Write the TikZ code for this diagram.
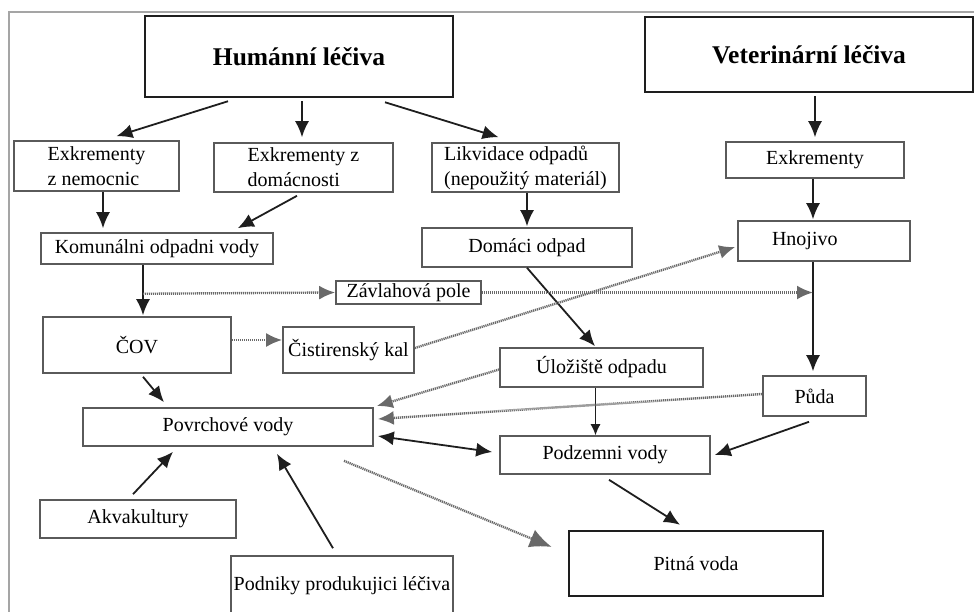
\documentclass[tikz,border=0pt]{standalone}
\usepackage{fontspec}
\setmainfont{Liberation Serif}
\usepackage{tikz}
\usetikzlibrary{arrows.meta,positioning}
\usepackage{xcolor}
\definecolor{boxgray}{RGB}{90,90,90}
\definecolor{linegray}{RGB}{30,30,30}
\definecolor{dotgray}{RGB}{105,105,105}
\definecolor{framegray}{RGB}{165,165,165}
\tikzstyle{box} = [draw=boxgray, line width=1.6pt, rectangle, inner sep=0pt, font=\fontsize{20}{25}\selectfont]
\tikzstyle{bigbox} = [box, draw=linegray, line width=2.5pt, font=\fontsize{25.5}{28}\selectfont\bfseries]
\tikzstyle{arrow} = [line width=1.8pt, color=linegray, -{Latex[length=16pt,width=14pt]}]
\tikzstyle{dotarrow} = [line width=2.4pt, color=dotgray, dash pattern=on 1.2pt off 0.8pt, -{Latex[length=16pt,width=14pt]}]

\begin{document}
\begin{tikzpicture}[x=1pt, y=-1pt]
\useasboundingbox (0,0) rectangle (974,611);
\clip (0,0) rectangle (974,611);
% Frame
\draw[framegray, line width=1.2pt] (9,620) -- (9,12) -- (990,12);

% Human side
\node[bigbox, minimum width=308pt, minimum height=81pt] (hum) at (299,56.5) {Humánní léčiva};
\node[box, minimum width=165pt, minimum height=50pt, align=left] (nem) at (96.5,166) {Exkrementy\\z nemocnic};
\node[box, minimum width=179pt, minimum height=49pt, align=left] (dom) at (303.5,167.5) {Exkrementy z\\domácnosti};
\node[box, minimum width=187pt, minimum height=49pt, align=left] (likv) at (525.5,167.5) {Likvidace odpadů\\(nepoužitý materiál)};
\node[box, minimum width=232pt, minimum height=31pt] (kom) at (157,248.5) {Komunálni odpadni vody};
\node[box, minimum width=210pt, minimum height=39pt] (doma) at (527,247.5) {Domáci odpad};
\node[box, minimum width=145pt, minimum height=23pt] (zav) at (408.5,292.5) {Závlahová pole};
\node[box, minimum width=188pt, minimum height=56pt] (cov) at (137,345) {ČOV};
\node[box, minimum width=131pt, minimum height=46pt] (kal) at (348.5,350) {Čistirenský kal};
\node[box, minimum width=203pt, minimum height=39pt] (ulo) at (601.5,367.5) {Úložiště odpadu};

% Veterinary side
\node[bigbox, line width=2pt, minimum width=328pt, minimum height=75pt] (vet) at (809,54.5) {Veterinární léčiva};
\node[box, minimum width=178pt, minimum height=36pt] (exv) at (815,160) {Exkrementy};
\node[box, minimum height=40pt, text width=104pt, inner xsep=34pt, align=left] (hnoj) at (824,241) {Hnojivo};
\node[box, minimum width=103pt, minimum height=40pt] (puda) at (814.5,396) {Půda};

% Waters
\node[box, minimum width=290pt, minimum height=38pt] (povr) at (228,427) {Povrchové vody};
\node[box, minimum width=210pt, minimum height=38pt] (podz) at (605,455) {Podzemni vody};
\node[box, minimum width=196pt, minimum height=38pt] (akva) at (138,519) {Akvakultury};
\node[box, minimum width=222pt, minimum height=60pt] (podn) at (342,586) {Podniky produkujici léčiva};
\node[box, draw=linegray, line width=2.5pt, minimum width=254pt, minimum height=65pt] (pit) at (696,563.5) {Pitná voda};

% Helper points
\coordinate (br) at ([xshift=-14pt,yshift=-29pt]kom.south);
\coordinate (hs) at ([xshift=-11pt]hnoj.south);

% Solid arrows
\draw[arrow] ([xshift=-71pt,yshift=-3pt]hum.south) -- ([xshift=20pt,yshift=4pt]nem.north);
\draw[arrow] ([xshift=3pt,yshift=-3pt]hum.south) -- ([xshift=-1.5pt,yshift=5pt]dom.north);
\draw[arrow] ([xshift=86pt,yshift=-4pt]hum.south) -- ([xshift=-27pt,yshift=5pt]likv.north);
\draw[arrow] ([xshift=6.5pt]nem.south) -- ([xshift=-54pt,yshift=4pt]kom.north);
\draw[arrow] ([xshift=-6.5pt,yshift=-3pt]dom.south) -- ([xshift=-36pt,yshift=4pt]kom.north east);
\draw[arrow] ([xshift=1.5pt]likv.south) -- ([yshift=1pt]doma.north);
\draw[arrow] ([xshift=6pt,yshift=-3pt]vet.south) -- ([yshift=4pt]exv.north);
\draw[arrow] ([xshift=-2pt]exv.south) -- ([xshift=-11pt,yshift=1pt]hnoj.north);
\draw[arrow] ([xshift=-14pt]kom.south) -- ([xshift=6pt,yshift=1pt]cov.north);
\draw[arrow] (hs) -- ([xshift=-1.5pt,yshift=4pt]puda.north);
\draw[arrow] (doma.south) -- ([xshift=-6.5pt,yshift=1pt]ulo.north);
\draw[arrow] ([xshift=6pt,yshift=-3pt]cov.south) -- ([xshift=-64pt,yshift=5pt]povr.north);
\draw[arrow, {Latex[length=16pt,width=14pt]}-{Latex[length=16pt,width=14pt]}] ([xshift=4pt,yshift=-9pt]povr.east) -- ([xshift=-7pt,yshift=3pt]podz.west);
\draw[arrow, line width=1.1pt, -{Latex[length=11pt,width=10pt]}] ([xshift=-6pt]ulo.south) -- ([xshift=-9.5pt]podz.north);
\draw[arrow] ([xshift=-5.5pt,yshift=-5pt]puda.south) -- ([xshift=4pt]podz.east);
\draw[arrow] ([xshift=4pt,yshift=-5pt]podz.south) -- ([xshift=-16pt,yshift=5pt]pit.north);
\draw[arrow] ([xshift=-5pt,yshift=5pt]akva.north) -- ([xshift=-55pt,yshift=-5pt]povr.south);
\draw[arrow] ([xshift=-9pt,yshift=7pt]podn.north) -- ([xshift=49pt,yshift=-7pt]povr.south);

% Dotted arrows
\draw[dotarrow] (br) -- (zav.west);
\draw[dotarrow] (zav.east) -- (zav.east -| hs);
\draw[dotarrow] ([yshift=5pt]cov.east) -- ([yshift=10pt]kal.west);
\draw[dotarrow] ([yshift=2pt]kal.east) -- ([xshift=-2pt,yshift=-6pt]hnoj.west);
\draw[dotarrow] ([yshift=-2pt]ulo.west) -- ([xshift=3pt,yshift=21pt]povr.east);
\draw[dotarrow] ([yshift=2pt]puda.west) -- ([xshift=4pt,yshift=8pt]povr.east);
\draw[dotarrow, -{Latex[length=22pt,width=19pt]}] ([xshift=116pt,yshift=-14pt]povr.south) -- ([xshift=-16pt,yshift=16.5pt]pit.west);
\end{tikzpicture}
\end{document}
